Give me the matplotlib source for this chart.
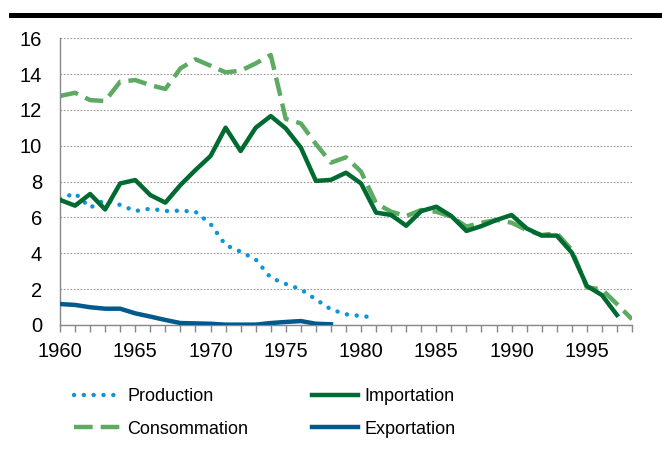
import matplotlib
matplotlib.use("Agg")
import matplotlib.pyplot as plt
from matplotlib.patches import Rectangle

plt.rcParams['font.family'] = ['Liberation Sans', 'DejaVu Sans']

years = list(range(1960, 1999))
prod_years = list(range(1960, 1982))
production = [7.05, 7.35, 6.55, 6.98, 6.7, 6.36, 6.49, 6.36, 6.38, 6.32, 5.64,
              4.46, 4.09, 3.66, 2.64, 2.29, 1.99, 1.43, 0.87, 0.6, 0.5, 0.41]
consommation = [12.78, 12.96, 12.55, 12.5, 13.58, 13.67, 13.39, 13.17, 14.32, 14.83,
                14.47, 14.1, 14.19, 14.6, 15.07, 11.5, 11.25, 10.1, 9.06, 9.36,
                8.56, 6.79, 6.32, 6.08, 6.42, 6.32, 6.05, 5.49, 5.71, 5.86,
                5.71, 5.3, 5.02, 5.12, 4.19, 2.1, 1.99, 1.17, 0.32]
imp_years = list(range(1960, 1998))
importation = [6.98, 6.66, 7.31, 6.45, 7.9, 8.09, 7.25, 6.83, 7.81, 8.65,
               9.43, 11.01, 9.71, 11.01, 11.66, 10.97, 9.9, 8.04, 8.1, 8.5,
               7.9, 6.27, 6.14, 5.54, 6.36, 6.6, 6.08, 5.25, 5.52, 5.86,
               6.14, 5.39, 4.99, 4.99, 4.04, 2.18, 1.67, 0.56]
exp_years = list(range(1960, 1979))
exportation = [1.17, 1.12, 0.99, 0.91, 0.91, 0.65, 0.47, 0.28, 0.11, 0.09,
               0.07, 0.02, 0.02, 0.02, 0.11, 0.17, 0.22, 0.07, 0.04]

xtick_labels = [1960, 1965, 1970, 1975, 1980, 1985, 1990, 1995]
yticks = [0, 2, 4, 6, 8, 10, 12, 14, 16]

c_prod = '#0E95D8'
c_cons = '#5DAA63'
c_imp = '#006B30'
c_exp = '#005A8E'

fig = plt.figure(figsize=(6.62, 4.5), dpi=100)
ax = fig.add_axes([60/662, 1-325/450, (632-60)/662, (325-38.3)/450])

lp, = ax.plot(prod_years, production, color=c_prod, lw=3.2,
              linestyle=(0, (0.01, 2.2)), dash_capstyle='round', label='Production')
lc, = ax.plot(years, consommation, color=c_cons, lw=3.2,
              linestyle=(0, (4.2, 1.8)), label='Consommation')
li, = ax.plot(imp_years, importation, color=c_imp, lw=3.2, label='Importation')
le, = ax.plot(exp_years, exportation, color=c_exp, lw=3.2, label='Exportation')
lc.set_zorder(2); lp.set_zorder(2.5); li.set_zorder(3); le.set_zorder(3)

ax.set_xlim(1960, 1998)
ax.set_ylim(0, 16)
ax.set_yticks(yticks)
ax.set_yticklabels([str(v) for v in yticks], fontsize=14.5)
ax.set_xticks(years)
ax.set_xticklabels([str(y) if y in xtick_labels else '' for y in years], fontsize=14.5)
ax.tick_params(axis='x', direction='out', length=5, color='#888888', width=1, pad=7)
ax.tick_params(axis='y', length=0, pad=13)
for s in ['top', 'right']:
    ax.spines[s].set_visible(False)
for s in ['left', 'bottom']:
    ax.spines[s].set_color('#888888')
    ax.spines[s].set_linewidth(1)
ax.yaxis.grid(True, linestyle=(0, (1.5, 1.5)), color='#999999', linewidth=0.8)
ax.set_axisbelow(True)

fig.add_artist(Rectangle((9/662, 1-18/450), 1-9/662, 5/450, transform=fig.transFigure,
                         color='black', lw=0))

fig.legend(handles=[lp, lc, li, le], ncol=2, loc='center',
           bbox_to_anchor=(265/662, 1-413/450), frameon=False, fontsize=13,
           handlelength=2.6, handletextpad=0.35, columnspacing=3.5, labelspacing=0.85)

fig.savefig('out.png', dpi=100)
